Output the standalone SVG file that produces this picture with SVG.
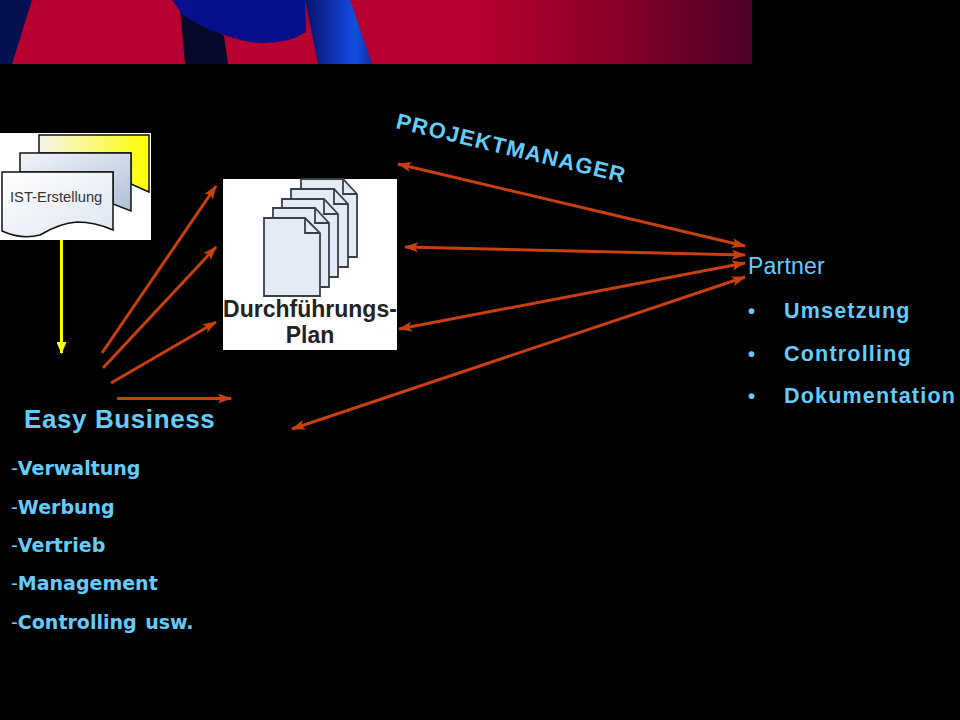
<svg xmlns="http://www.w3.org/2000/svg" width="960" height="720" viewBox="0 0 960 720">
<style>
.t{font-family:"Liberation Sans",Arial,sans-serif;fill:#66ccff;font-weight:bold}
.s{font-size:21.5px;letter-spacing:1.2px}
.d{font-family:"DejaVu Sans",Verdana,sans-serif;font-size:19px;fill:#66ccff;font-weight:bold;word-spacing:2px}
.h{font-weight:normal}
.c{stroke:#c8400f;stroke-width:3;fill:none}
.sh{stroke:#3a4048;stroke-width:1.8}
</style>
<defs>
<linearGradient id="bg" x1="0" x2="1" y1="0" y2="0">
<stop offset="0" stop-color="#b80030"/><stop offset=".62" stop-color="#b80030"/><stop offset=".8" stop-color="#8e0028"/><stop offset="1" stop-color="#4c0028"/>
</linearGradient>
<linearGradient id="limb" x1="0" x2="1" y1="0" y2="0">
<stop offset="0" stop-color="#06126a"/><stop offset=".55" stop-color="#0f3cc8"/><stop offset=".75" stop-color="#1450e0"/><stop offset="1" stop-color="#0a2aa0"/>
</linearGradient>
<linearGradient id="y" x1="0" x2="1" y1="0" y2="0">
<stop offset="0" stop-color="#f4f4ee"/><stop offset="1" stop-color="#ffff00"/>
</linearGradient>
<linearGradient id="b" x1="0" x2="1" y1="0" y2="1">
<stop offset="0" stop-color="#f2f5fa"/><stop offset="1" stop-color="#b0bfd6"/>
</linearGradient>
<linearGradient id="w" x1="0" x2="1" y1="0" y2="1">
<stop offset="0" stop-color="#ffffff"/><stop offset="1" stop-color="#dde5f0"/>
</linearGradient>
<marker id="a" markerUnits="userSpaceOnUse" markerWidth="14" markerHeight="10" refX="13" refY="5" orient="auto"><path d="M0 0L14 5L0 10L3 5Z" fill="#c8400f"/></marker>
<marker id="as" markerUnits="userSpaceOnUse" markerWidth="14" markerHeight="10" refX="1" refY="5" orient="auto"><path d="M14 0L0 5L14 10L11 5Z" fill="#c8400f"/></marker>
<marker id="ay" markerUnits="userSpaceOnUse" markerWidth="12" markerHeight="10" refX="11" refY="5" orient="auto"><path d="M0 0L12 5L0 10Z" fill="#ffff00"/></marker>
</defs>
<rect width="960" height="720" fill="#000"/>
<g id="banner">
<rect x="0" y="0" width="752" height="64" fill="url(#bg)"/>
<path d="M0 0H32L12 64H0Z" fill="#05104e"/>
<path d="M180 10L185 64H228L224 36L190 10Z" fill="#060a28"/>
<path d="M172 0H305L306 32Q285 46 250 42Q210 34 182 14Z" fill="#080f8a"/>
<path d="M305 0H350L372 64H318Z" fill="url(#limb)"/>
</g>
<g id="ist-erstellung">
<rect x="0" y="133" width="151" height="107" fill="#fff"/>
<path d="M39 135H149V192L131 184V153H39Z" fill="url(#y)" stroke="#111" stroke-width="1.5"/>
<path d="M20 153H131V211L113 204V172H20Z" fill="url(#b)" stroke="#111" stroke-width="1.5"/>
<path d="M2 172H113V230Q95 222 77 222Q60 223 40 235Q22 240 2 231Z" fill="url(#w)" stroke="#111" stroke-width="1.5"/>
<text x="10" y="202" font-family="Liberation Sans, Arial, sans-serif" font-size="14.700" fill="#333">IST-Erstellung</text>
</g>
<g id="durchfuehrungsplan">
<rect x="223" y="179" width="174" height="171" fill="#fff"/>
<g fill="#e4ebf6" class="sh">
<path d="M301 179H343L357 194V257H301Z"/>
<path d="M291 189H334L348 204V267H291Z"/>
<path d="M282 199H324L338 214V277H282Z"/>
<path d="M273 208H315L329 223V287H273Z"/>
<path d="M264 218H305L320 233V296H264Z"/>
</g>
<g fill="none" class="sh">
<path d="M343 179V194H357M334 189V204H348M324 199V214H338M315 208V223H329M305 218V233H320"/>
</g>
<text x="310" y="317" text-anchor="middle" font-family="Liberation Sans, Arial, sans-serif" font-size="23" font-weight="bold" fill="#222">Durchführungs-</text>
<text x="310" y="343" text-anchor="middle" font-family="Liberation Sans, Arial, sans-serif" font-size="23" font-weight="bold" fill="#222">Plan</text>
</g>
<g id="connectors">
<line x1="61.500" y1="240" x2="61.500" y2="353" stroke="#ffff00" stroke-width="3" marker-end="url(#ay)"/>
<line class="c" x1="102" y1="353" x2="216" y2="186" marker-end="url(#a)"/>
<line class="c" x1="103" y1="368" x2="216" y2="247" marker-end="url(#a)"/>
<line class="c" x1="111" y1="383" x2="216" y2="322" marker-end="url(#a)"/>
<line class="c" x1="117" y1="398.500" x2="231" y2="398.500" marker-end="url(#a)"/>
<line class="c" x1="398" y1="164" x2="745" y2="246" marker-start="url(#as)" marker-end="url(#a)"/>
<line class="c" x1="405" y1="247" x2="745" y2="255" marker-start="url(#as)" marker-end="url(#a)"/>
<line class="c" x1="399" y1="329" x2="745" y2="263" marker-start="url(#as)" marker-end="url(#a)"/>
<line class="c" x1="292" y1="429" x2="745" y2="277" marker-start="url(#as)" marker-end="url(#a)"/>
</g>
<g id="projektmanager">
<text class="t" x="395" y="128" font-size="22" transform="rotate(13.500 395 128)" letter-spacing="1.300">PROJEKTMANAGER</text>
</g>
<g id="partner">
<text class="t h" x="748" y="274" font-size="23" letter-spacing=".2">Partner</text>
<text class="t" x="748" y="318" font-size="20">•</text>
<text class="t s" x="784" y="318">Umsetzung</text>
<text class="t" x="748" y="361" font-size="20">•</text>
<text class="t s" x="784" y="361">Controlling</text>
<text class="t" x="748" y="403" font-size="20">•</text>
<text class="t s" x="784" y="403">Dokumentation</text>
</g>
<g id="easy-business">
<text class="t" x="24" y="428" font-size="26" letter-spacing=".6">Easy Business</text>
<text class="d" x="11" y="475"><tspan font-weight="normal">-</tspan>Verwaltung</text>
<text class="d" x="11" y="514"><tspan font-weight="normal">-</tspan>Werbung</text>
<text class="d" x="11" y="552"><tspan font-weight="normal">-</tspan>Vertrieb</text>
<text class="d" x="11" y="590"><tspan font-weight="normal">-</tspan>Management</text>
<text class="d" x="11" y="629"><tspan font-weight="normal">-</tspan>Controlling usw.</text>
</g>
</svg>
